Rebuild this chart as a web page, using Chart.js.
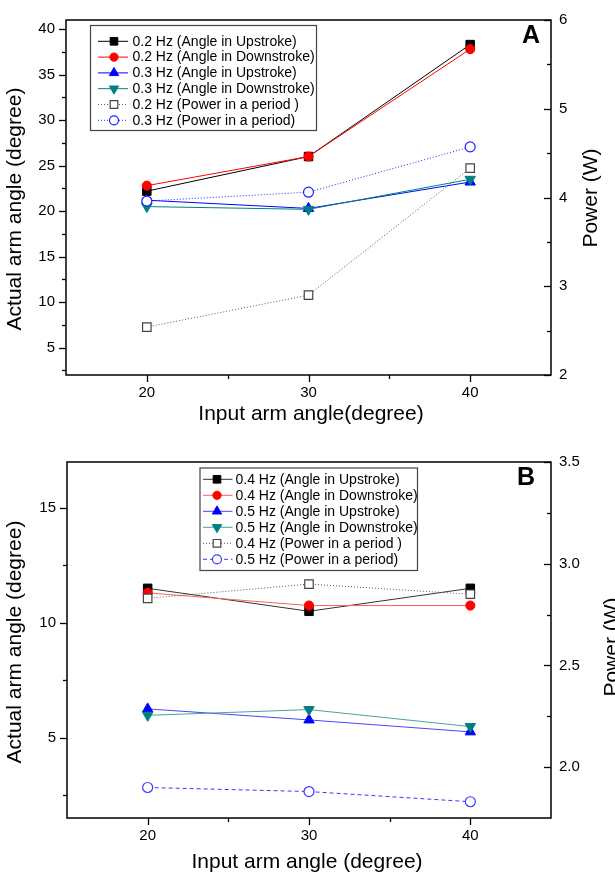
<!DOCTYPE html>
<html>
<head>
<meta charset="utf-8">
<script src="https://cdn.jsdelivr.net/npm/chart.js@4.4.1/dist/chart.umd.min.js"></script>
<style>
  html, body { margin: 0; padding: 0; background: #fff; }
  #wrap { position: relative; width: 615px; height: 873px; overflow: hidden; }
  canvas { position: absolute; left: 0; }
</style>
</head>
<body>
<div id="wrap">
  <canvas id="panelA" width="615" height="430" style="top:0px"></canvas>
  <canvas id="panelB" width="615" height="443" style="top:430px"></canvas>
</div>
<script>
// x values shared by both panels
const inputAngles = [20, 30, 40];
const inputTicks = [20, 30, 40];
const inputMinor = [25, 35];

// panel A: 0.2 Hz / 0.3 Hz
const labelsA = [
  '0.2 Hz (Angle in Upstroke)',
  '0.2 Hz (Angle in Downstroke)',
  '0.3 Hz (Angle in Upstroke)',
  '0.3 Hz (Angle in Downstroke)',
  '0.2 Hz (Power in a period )',
  '0.3 Hz (Power in a period)'
];
const up02 = [22.2, 26.0, 38.3];
const down02 = [22.8, 26.0, 37.8];
const up03 = [21.2, 20.3, 23.2];
const down03 = [20.5, 20.2, 23.5];
const power02 = [2.54, 2.90, 4.33];
const power03 = [3.96, 4.06, 4.57];
const angleTicksA = [5, 10, 15, 20, 25, 30, 35, 40];
const angleMinorA = [2.5, 7.5, 12.5, 17.5, 22.5, 27.5, 32.5, 37.5];
const powerTicksA = [2, 3, 4, 5, 6];
const powerMinorA = [2.5, 3.5, 4.5, 5.5];

// panel B: 0.4 Hz / 0.5 Hz
const labelsB = [
  '0.4 Hz (Angle in Upstroke)',
  '0.4 Hz (Angle in Downstroke)',
  '0.5 Hz (Angle in Upstroke)',
  '0.5 Hz (Angle in Downstroke)',
  '0.4 Hz (Power in a period )',
  '0.5 Hz (Power in a period)'
];
const up04 = [11.5, 10.5, 11.5];
const down04 = [11.3, 10.75, 10.75];
const up05 = [6.25, 5.77, 5.25];
const down05 = [5.97, 6.22, 5.48];
const power04 = [2.83, 2.90, 2.85];
const power05 = [1.90, 1.88, 1.83];
const angleTicksB = [5, 10, 15];
const angleMinorB = [2.5, 7.5, 12.5];
const powerTicksB = [2.0, 2.5, 3.0, 3.5];
const powerMinorB = [2.25, 2.75, 3.25];

const FONT = '"Liberation Sans", Arial, sans-serif';
Chart.defaults.font.family = FONT;
Chart.defaults.color = '#000';

const pts = vals => inputAngles.map((x, i) => ({ x, y: vals[i] }));

function series(label, vals, axis, idx, style) {
  return Object.assign({
    label, data: pts(vals), yAxisID: axis, order: 10 - idx,
    borderWidth: 1, pointBorderWidth: 1, tension: 0, fill: false
  }, style);
}

const filledSq = c => ({ pointStyle: 'rect', pointRadius: 6, pointBackgroundColor: c, pointBorderColor: c });
const filledDot = c => ({ pointStyle: 'circle', pointRadius: 4.6, pointBackgroundColor: c, pointBorderColor: c });
const triUp = c => ({ pointStyle: 'triangle', pointRadius: 6, pointBackgroundColor: c, pointBorderColor: c });
const triDown = c => ({ pointStyle: 'triangle', pointRotation: 180, pointRadius: 6, pointBackgroundColor: c, pointBorderColor: c });
const openSq = c => ({ pointStyle: 'rect', pointRadius: 6, pointBackgroundColor: '#fff', pointBorderColor: c, pointBorderWidth: 1.2 });
const openDot = c => ({ pointStyle: 'circle', pointRadius: 5, pointBackgroundColor: '#fff', pointBorderColor: c, pointBorderWidth: 1.2 });

const panelDecor = {
  id: 'panelDecor',
  afterDraw(chart, args, o) {
    const { ctx, chartArea: a, scales } = chart;
    ctx.save();
    ctx.strokeStyle = '#000';
    ctx.lineWidth = 1.5;
    ctx.strokeRect(a.left, a.top, a.right - a.left, a.bottom - a.top);

    ctx.lineWidth = 1.3;
    const hTick = (scale, vals, len, x0, dir) => vals.forEach(v => {
      const y = Math.round(scale.getPixelForValue(v)) + 0.5;
      ctx.beginPath(); ctx.moveTo(x0, y); ctx.lineTo(x0 + dir * len, y); ctx.stroke();
    });
    hTick(scales.y, o.leftMajor, 7, a.left, -1);
    hTick(scales.y, o.leftMinor, 4, a.left, -1);
    hTick(scales.y1, o.rightMajor, 7, a.right, -1);
    hTick(scales.y1, o.rightMinor, 4, a.right, -1);
    const vTick = (vals, len) => vals.forEach(v => {
      const x = Math.round(scales.x.getPixelForValue(v)) + 0.5;
      ctx.beginPath(); ctx.moveTo(x, a.bottom); ctx.lineTo(x, a.bottom + len); ctx.stroke();
    });
    vTick(inputTicks, 7);
    vTick(inputMinor, 4);

    // axis titles
    ctx.fillStyle = '#000';
    ctx.textAlign = 'center';
    ctx.textBaseline = 'middle';
    ctx.font = '21px ' + FONT;
    ctx.fillText(o.xTitle, o.xTitlePos[0], o.xTitlePos[1]);
    [[o.yTitle, o.yTitlePos], [o.y1Title, o.y1TitlePos]].forEach(([t, p]) => {
      ctx.save(); ctx.translate(p[0], p[1]); ctx.rotate(-Math.PI / 2);
      ctx.fillText(t, 0, 0); ctx.restore();
    });
    ctx.font = 'bold 25px ' + FONT;
    ctx.fillText(o.tag, o.tagPos[0], o.tagPos[1]);

    // legend box
    const L = o.legend;
    ctx.strokeStyle = '#444';
    ctx.lineWidth = 1.2;
    ctx.strokeRect(L.x + 0.5, L.y + 0.5, L.w, L.h);
    ctx.font = '14px ' + FONT;
    ctx.textAlign = 'left';
    chart.data.datasets.forEach((ds, i) => {
      const y = L.y + L.first + i * L.step;
      ctx.save();
      ctx.strokeStyle = ds.borderColor;
      ctx.lineWidth = ds.borderWidth;
      ctx.setLineDash(ds.borderDash || []);
      ctx.beginPath(); ctx.moveTo(L.lx1, y); ctx.lineTo(L.lx2, y); ctx.stroke();
      ctx.setLineDash([]);
      ctx.fillStyle = ds.pointBackgroundColor;
      ctx.strokeStyle = ds.pointBorderColor;
      ctx.lineWidth = ds.pointBorderWidth;
      Chart.helpers.drawPoint(ctx, {
        pointStyle: ds.pointStyle, rotation: ds.pointRotation || 0,
        radius: ds.pointRadius * 0.9, borderWidth: ds.pointBorderWidth
      }, L.mx, y);
      ctx.restore();
      ctx.fillStyle = '#000';
      ctx.fillText(ds.label, L.tx, y + 0.5);
    });
    ctx.restore();
  }
};

function makeChart(id, datasets, cfg) {
  const fixedTicks = vals => s => { s.ticks = vals.map(v => ({ value: v })); };
  return new Chart(document.getElementById(id), {
    type: 'line',
    data: { datasets },
    options: {
      responsive: false, animation: false, events: [],
      layout: { padding: { top: cfg.top, left: 0, right: 0, bottom: 0 } },
      plugins: { legend: { display: false }, tooltip: { enabled: false }, panelDecor: cfg.decor },
      scales: {
        x: {
          type: 'linear', min: 15, max: 45,
          afterBuildTicks: fixedTicks(inputTicks),
          afterFit: s => { s.height = cfg.xHeight; },
          grid: { display: false, drawTicks: false }, border: { display: false },
          ticks: { font: { size: 15 }, color: '#000', padding: 9, maxRotation: 0 }
        },
        y: {
          type: 'linear', position: 'left', min: cfg.yMin, max: cfg.yMax,
          afterBuildTicks: fixedTicks(cfg.decor.leftMajor),
          afterFit: s => { s.width = cfg.leftW; },
          grid: { display: false, drawTicks: false }, border: { display: false },
          ticks: { font: { size: 15 }, color: '#000', padding: 11 }
        },
        y1: {
          type: 'linear', position: 'right', min: cfg.y1Min, max: cfg.y1Max,
          afterBuildTicks: fixedTicks(cfg.decor.rightMajor),
          afterFit: s => { s.width = 64; },
          grid: { display: false, drawTicks: false }, border: { display: false },
          ticks: { font: { size: 15 }, color: '#000', padding: 8, callback: cfg.y1Fmt }
        }
      }
    },
    plugins: [panelDecor]
  });
}

makeChart('panelA', [
  series(labelsA[0], up02, 'y', 0, Object.assign({ borderColor: '#000' }, filledSq('#000'))),
  series(labelsA[1], down02, 'y', 1, Object.assign({ borderColor: '#ff0000' }, filledDot('#ff0000'))),
  series(labelsA[2], up03, 'y', 2, Object.assign({ borderColor: '#0000ff' }, triUp('#0000ff'))),
  series(labelsA[3], down03, 'y', 3, Object.assign({ borderColor: '#008080' }, triDown('#008080'))),
  series(labelsA[4], power02, 'y1', 4, Object.assign({ borderColor: '#555', borderDash: [1, 2] }, openSq('#444'))),
  series(labelsA[5], power03, 'y1', 5, Object.assign({ borderColor: '#2020ff', borderDash: [1, 2] }, openDot('#2020ff')))
], {
  top: 16, xHeight: 55, leftW: 66,
  yMin: 2, yMax: 41, y1Min: 2, y1Max: 6,
  y1Fmt: v => String(v),
  decor: {
    leftMajor: angleTicksA, leftMinor: angleMinorA,
    rightMajor: powerTicksA, rightMinor: powerMinorA,
    xTitle: 'Input arm angle(degree)', xTitlePos: [311, 414],
    yTitle: 'Actual arm angle (degree)', yTitlePos: [15, 209],
    y1Title: 'Power (W)', y1TitlePos: [591, 198],
    tag: 'A', tagPos: [531, 36],
    legend: { x: 90, y: 25, w: 226, h: 105, first: 16.3, step: 15.8, lx1: 98, lx2: 128, mx: 114, tx: 132.5 }
  }
});

makeChart('panelB', [
  series(labelsB[0], up04, 'y', 0, Object.assign({ borderColor: '#333' }, filledSq('#000'))),
  series(labelsB[1], down04, 'y', 1, Object.assign({ borderColor: '#ff6060' }, filledDot('#ff0000'))),
  series(labelsB[2], up05, 'y', 2, Object.assign({ borderColor: '#4545ff' }, triUp('#0000ff'))),
  series(labelsB[3], down05, 'y', 3, Object.assign({ borderColor: '#4aa0a0' }, triDown('#008080'))),
  series(labelsB[4], power04, 'y1', 4, Object.assign({ borderColor: '#555', borderDash: [1, 2] }, openSq('#444'))),
  series(labelsB[5], power05, 'y1', 5, Object.assign({ borderColor: '#3a3aff', borderDash: [4, 3] }, openDot('#3a3aff')))
], {
  top: 32, xHeight: 55, leftW: 67,
  yMin: 1.5, yMax: 17, y1Min: 1.75, y1Max: 3.5,
  y1Fmt: v => v.toFixed(1),
  decor: {
    leftMajor: angleTicksB, leftMinor: angleMinorB,
    rightMajor: powerTicksB, rightMinor: powerMinorB,
    xTitle: 'Input arm angle (degree)', xTitlePos: [307, 432],
    yTitle: 'Actual arm angle (degree)', yTitlePos: [15, 212],
    y1Title: 'Power (W)', y1TitlePos: [612, 217],
    tag: 'B', tagPos: [526, 48],
    legend: { x: 199.5, y: 37.5, w: 217.5, h: 102.5, first: 11.8, step: 16, lx1: 203, lx2: 232.5, mx: 217, tx: 235.5 }
  }
});
</script>
</body>
</html>
